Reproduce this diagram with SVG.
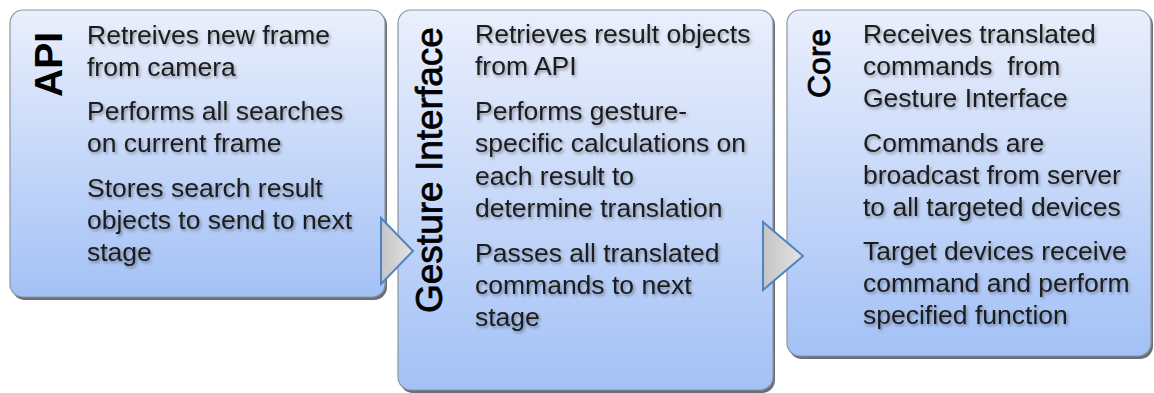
<svg xmlns="http://www.w3.org/2000/svg" width="1154" height="393" viewBox="0 0 1154 393">
<defs>
<linearGradient id="boxg" x1="0" y1="0" x2="0" y2="1">
<stop offset="0" stop-color="#eaeffc"/>
<stop offset="1" stop-color="#a3c1f6"/>
</linearGradient>
<linearGradient id="arrg" x1="0" y1="0" x2="1" y2="0">
<stop offset="0" stop-color="#c4c4c4"/>
<stop offset="1" stop-color="#e4e4e4"/>
</linearGradient>
<filter id="tsh" x="-10%" y="-30%" width="120%" height="160%">
<feDropShadow dx="1.5" dy="2" stdDeviation="1.6" flood-color="#000" flood-opacity="0.35"/>
</filter>
</defs>
<style>
.box{fill:url(#boxg);stroke:#8d96a3;stroke-width:1.2}
.shd{fill:#6b6e73}
.t{font-family:"Liberation Sans",Arial,sans-serif;font-size:26.5px;fill:#1c1c1c;filter:url(#tsh)}
.h{font-family:"Liberation Sans",Arial,sans-serif;fill:#000}
.semi{stroke:#000;stroke-width:0.8}
.arr{fill:url(#arrg);stroke:#4f84c4;stroke-width:2;stroke-linejoin:miter}
</style>
<rect width="1154" height="393" fill="#ffffff"/>
<g id="node-api">
<rect class="shd" x="12" y="12" width="375" height="288" rx="13"/>
<rect class="box" x="10" y="10" width="375" height="287" rx="13"/>
<text class="h" font-weight="bold" font-size="39" transform="translate(62,97) rotate(-90)">API</text>
<text class="t" x="87" y="44">Retreives new frame</text>
<text class="t" x="87" y="76">from camera</text>
<text class="t" x="87" y="120">Performs all searches</text>
<text class="t" x="87" y="152">on current frame</text>
<text class="t" x="87" y="197">Stores search result</text>
<text class="t" x="87" y="229">objects to send to next</text>
<text class="t" x="87" y="261">stage</text>
</g>
<g id="node-gesture">
<rect class="shd" x="400" y="12" width="375" height="381" rx="13"/>
<rect class="box" x="398" y="10" width="375" height="380" rx="13"/>
<text class="h semi" font-size="37" transform="translate(442,313) rotate(-90)">Gesture Interface</text>
<text class="t" x="475" y="43">Retrieves result objects</text>
<text class="t" x="475" y="75">from API</text>
<text class="t" x="475" y="120">Performs gesture-</text>
<text class="t" x="475" y="152">specific calculations on</text>
<text class="t" x="475" y="185">each result to</text>
<text class="t" x="475" y="217">determine translation</text>
<text class="t" x="475" y="262">Passes all translated</text>
<text class="t" x="475" y="294">commands to next</text>
<text class="t" x="475" y="326">stage</text>
</g>
<g id="node-core">
<rect class="shd" x="789" y="12" width="364" height="347" rx="13"/>
<rect class="box" x="787" y="10" width="364" height="346" rx="13"/>
<text class="h semi" font-size="32" transform="translate(830,98) rotate(-90)">Core</text>
<text class="t" x="863" y="43">Receives translated</text>
<text class="t" x="863" y="75" xml:space="preserve">commands  from</text>
<text class="t" x="863" y="107">Gesture Interface</text>
<text class="t" x="863" y="152">Commands are</text>
<text class="t" x="863" y="184">broadcast from server</text>
<text class="t" x="863" y="216">to all targeted devices</text>
<text class="t" x="863" y="260">Target devices receive</text>
<text class="t" x="863" y="292">command and perform</text>
<text class="t" x="863" y="324">specified function</text>
</g>
<g id="connectors">
<polygon class="arr" points="381,218 413,251 381,284"/>
<polygon class="arr" points="763,222 803,256 763,290"/>
</g>
</svg>
